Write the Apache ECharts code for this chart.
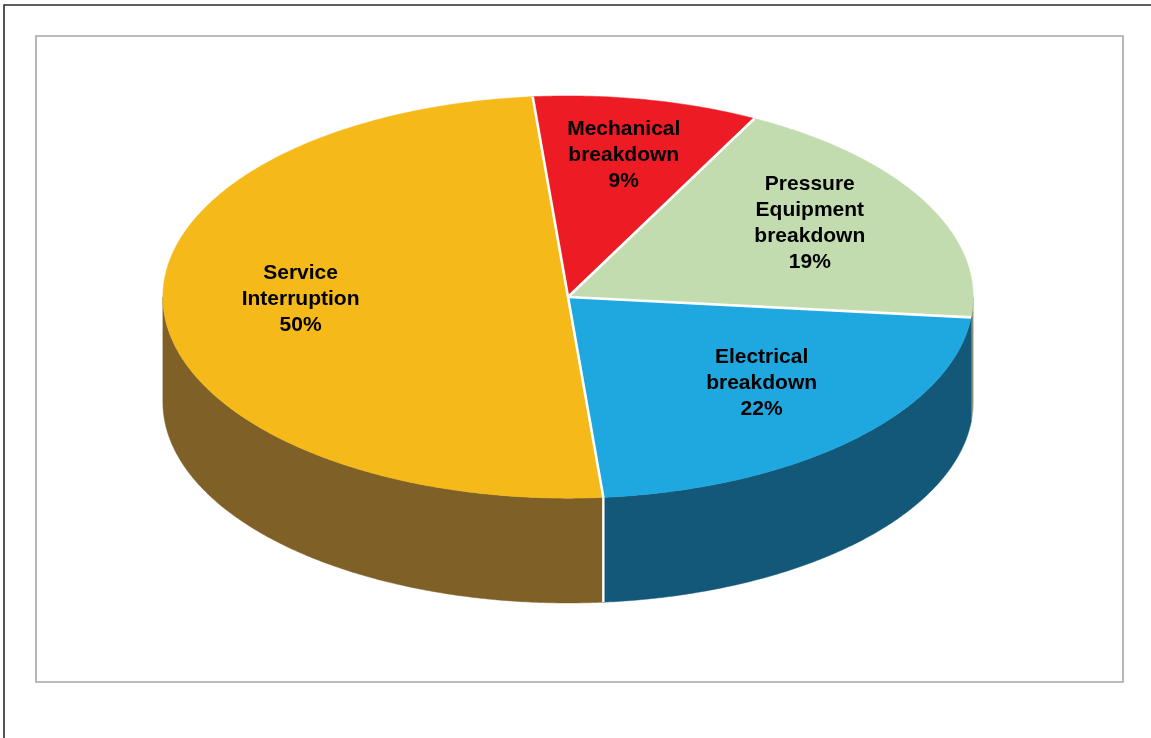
<!DOCTYPE html>
<html><head><meta charset="utf-8">
<style>html,body{margin:0;padding:0;background:#fff;overflow:hidden;} #c{width:1151px;height:738px;}</style>
<script src="https://cdn.jsdelivr.net/npm/echarts@6/dist/echarts.min.js"></script>
</head><body><div id="c"></div>
<script>
const categories = ['Mechanical\nbreakdown', 'Pressure\nEquipment\nbreakdown', 'Electrical\nbreakdown', 'Service\nInterruption'];
const values = [9, 19, 22, 50];
const topColors = ['#ED1C24', '#C3DCAF', '#1FA8E0', '#F5B91A'];
const sideColors = ['#8A1015', '#8A9078', '#135878', '#7F6128'];

const chart = echarts.init(document.getElementById('c'), null, {renderer: 'canvas'});
const total = values.reduce((s, v) => s + v, 0);
const START = -95;          // first slice start angle (deg, screen clockwise)
function geom(api) {
  const W = api.getWidth(), H = api.getHeight();
  return {cx: W * 0.4935, cy: H * 0.4025, a: W * 0.352, b: H * 0.2725, d: H * 0.142};
}
function angles(i) {
  let s = START;
  for (let k = 0; k < i; k++) s += values[k] / total * 360;
  return [s, s + values[i] / total * 360];
}
function pt(g, t, dy) {
  const r = t * Math.PI / 180;
  return [g.cx + g.a * Math.cos(r), g.cy + g.b * Math.sin(r) + (dy || 0)];
}
function arc(g, t0, t1, dy) {
  const pts = [];
  const n = Math.max(2, Math.ceil(Math.abs(t1 - t0) / 0.5));
  for (let k = 0; k <= n; k++) pts.push(pt(g, t0 + (t1 - t0) * k / n, dy));
  return pts;
}
function frontParts(t0, t1) {
  const parts = [];
  for (const k of [-1, 0, 1]) {
    const lo = Math.max(t0, k * 360), hi = Math.min(t1, k * 360 + 180);
    if (hi > lo) parts.push([lo, hi]);
  }
  return parts;
}
function frontFacing(t) {
  // vertical side seam is visible when it faces the viewer clearly
  return Math.sin(t * Math.PI / 180) > 0.3;
}

const option = {
  animation: false,
  backgroundColor: '#ffffff',
  graphic: [
    {type: 'rect', shape: {x: 4, y: 5, width: 1200, height: 800}, style: {fill: null, stroke: '#2b2b2b', lineWidth: 1.6}, z: 0},
    {type: 'rect', shape: {x: 36, y: 36, width: 1087, height: 646}, style: {fill: null, stroke: '#a6a6a6', lineWidth: 1.6}, z: 0}
  ],
  series: [
    {
      type: 'custom', name: 'side', coordinateSystem: 'none', z: 1,
      data: values,
      renderItem: function (params, api) {
        const g = geom(api), i = params.dataIndex;
        const [t0, t1] = angles(i);
        const children = frontParts(t0, t1).map(([lo, hi]) => ({
          type: 'polygon',
          shape: {points: arc(g, lo, hi, 0).concat(arc(g, hi, lo, g.d))},
          style: {fill: sideColors[i], stroke: sideColors[i], lineWidth: 0.5}
        }));
        return {type: 'group', children: children};
      }
    },
    {
      type: 'custom', name: 'top', coordinateSystem: 'none', z: 2,
      data: values,
      renderItem: function (params, api) {
        const g = geom(api), i = params.dataIndex;
        const [t0, t1] = angles(i);
        return {
          type: 'polygon',
          shape: {points: [[g.cx, g.cy]].concat(arc(g, t0, t1, 0))},
          style: {fill: topColors[i], stroke: topColors[i], lineWidth: 0.5}
        };
      }
    },
    {
      type: 'custom', name: 'separators', coordinateSystem: 'none', z: 3,
      data: values,
      renderItem: function (params, api) {
        const g = geom(api), i = params.dataIndex;
        const [t0, t1] = angles(i);
        const p = pt(g, t0, 0);
        const children = [{
          type: 'line', shape: {x1: g.cx, y1: g.cy, x2: p[0], y2: p[1]},
          style: {stroke: '#ffffff', lineWidth: 2.6}
        }];
        if (frontFacing(t0)) {
          children.push({type: 'line', shape: {x1: p[0], y1: p[1], x2: p[0], y2: p[1] + g.d},
            style: {stroke: '#ffffff', lineWidth: 2.4}});
        }
        return {type: 'group', children: children};
      }
    },
    {
      type: 'custom', name: 'labels', coordinateSystem: 'none', z: 4,
      data: values,
      renderItem: function (params, api) {
        const g = geom(api), i = params.dataIndex;
        const [t0, t1] = angles(i);
        const m = (t0 + t1) / 2 * Math.PI / 180;
        const x = g.cx + 3 + 0.67 * g.a * Math.cos(m);
        const y = g.cy - 10 + 0.67 * g.b * Math.sin(m);
        return {
          type: 'text',
          style: {
            text: categories[i] + '\n' + api.value(0) + '%',
            x: x, y: y, align: 'center', verticalAlign: 'middle',
            font: 'bold 21px "Liberation Sans", Arial, sans-serif',
            lineHeight: 26, fill: '#000000'
          }
        };
      }
    }
  ]
};
chart.setOption(option);
</script>
</body></html>
